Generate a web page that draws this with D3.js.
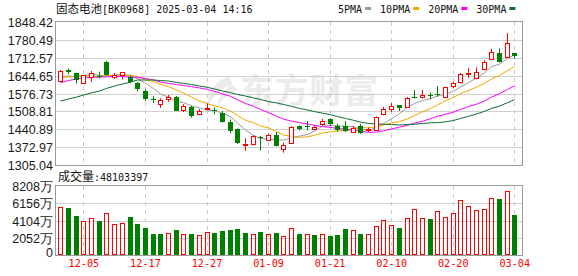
<!DOCTYPE html>
<html><head><meta charset="utf-8">
<script src="https://cdn.jsdelivr.net/npm/d3@7"></script>
<style>body{margin:0;background:#fff;overflow:hidden}svg{display:block}</style>
</head><body><svg id="c" width="578" height="276"></svg>
<script>
const dates=["12-02","12-03","12-04","12-05","12-06","12-09","12-10","12-11","12-12","12-13","12-16","12-17","12-18","12-19","12-20","12-23","12-24","12-25","12-26","12-27","12-30","12-31","01-02","01-03","01-06","01-07","01-08","01-09","01-10","01-13","01-14","01-15","01-16","01-17","01-20","01-21","01-22","01-23","01-24","01-27","02-05","02-06","02-07","02-10","02-11","02-12","02-13","02-14","02-17","02-18","02-19","02-20","02-21","02-24","02-25","02-26","02-27","02-28","03-03","03-04"];
const open =[1624,1667,1653,1618,1638,1643,1696,1641,1647,1641,1618,1585,1556,1535,1555,1564,1514,1526,1499,1519,1514,1504,1470,1441,1380,1385,1410,1400,1419,1365,1387,1452,1453,1443,1459,1478,1454,1454,1432,1452,1437,1438,1497,1519,1533,1524,1565,1563,1570,1575,1563,1605,1619,1652,1634,1668,1707,1729,1717,1729];
const high =[1666,1672,1656,1647,1662,1660,1701,1655,1658,1645,1620,1593,1567,1558,1572,1567,1536,1530,1518,1538,1524,1510,1478,1444,1406,1418,1415,1425,1431,1390,1452,1456,1472,1456,1480,1482,1462,1472,1453,1461,1448,1490,1526,1540,1533,1564,1590,1590,1580,1605,1602,1622,1655,1673,1676,1703,1746,1748,1806,1729];
const low  =[1620,1650,1615,1616,1621,1634,1645,1632,1630,1616,1585,1548,1541,1522,1545,1510,1506,1485,1497,1514,1498,1466,1425,1385,1359,1380,1360,1396,1376,1352,1385,1437,1437,1437,1455,1453,1432,1431,1428,1423,1430,1436,1494,1507,1511,1522,1558,1558,1555,1565,1560,1597,1615,1637,1630,1665,1704,1694,1716,1709];
const close=[1663,1660,1627,1646,1656,1640,1647,1648,1657,1622,1592,1555,1553,1552,1565,1512,1529,1491,1511,1521,1511,1470,1433,1390,1384,1415,1406,1419,1377,1381,1450,1443,1451,1449,1473,1461,1438,1435,1444,1426,1441,1488,1517,1531,1523,1560,1563,1571,1568,1572,1600,1617,1650,1654,1657,1695,1736,1697,1767,1720];
const volume=[5710,5591,4639,4005,4401,4045,4996,3688,3807,4560,3688,3251,2498,2498,2617,2974,2498,2498,2379,2736,2617,2855,2974,3093,2617,2498,2736,2498,2617,2260,3212,2498,2498,2379,2498,2260,2379,3093,2934,2498,2498,3410,4124,3569,3212,4362,5436,4362,4282,5198,4480,4956,6506,5793,5317,5436,6744,6662,7577,4810];
const ma5 =[1641,1643,1641,1645,1650,1646,1643,1647,1650,1643,1633,1615,1596,1575,1563,1547,1542,1530,1522,1513,1513,1501,1489,1465,1438,1418,1406,1403,1400,1400,1408,1415,1421,1434,1453,1455,1454,1452,1450,1441,1437,1447,1463,1481,1500,1524,1539,1550,1557,1567,1575,1585,1601,1618,1636,1655,1679,1688,1710,1723];
const ma10=[1638,1640,1642,1643,1643,1642,1644,1646,1647,1647,1640,1629,1622,1612,1603,1590,1579,1563,1548,1538,1530,1522,1510,1493,1475,1466,1453,1446,1433,1419,1413,1410,1412,1418,1427,1431,1434,1436,1442,1447,1446,1450,1457,1465,1470,1480,1493,1507,1519,1533,1549,1562,1576,1588,1601,1615,1632,1645,1664,1679];
const ma20=[1618,1626,1632,1636,1638,1639,1640,1641,1641,1639,1638,1634,1628,1620,1615,1611,1607,1603,1598,1592,1585,1575,1566,1553,1539,1528,1516,1504,1491,1479,1472,1466,1461,1456,1451,1448,1444,1441,1438,1433,1429,1430,1435,1442,1449,1456,1464,1471,1481,1490,1498,1506,1516,1527,1536,1548,1563,1576,1592,1606];
const ma30=[1548,1556,1563,1571,1579,1586,1596,1605,1613,1620,1628,1628,1628,1626,1624,1619,1615,1611,1605,1600,1594,1586,1580,1573,1567,1560,1554,1546,1541,1535,1528,1520,1514,1508,1502,1496,1489,1482,1475,1468,1463,1461,1460,1459,1457,1459,1460,1463,1465,1466,1469,1474,1482,1490,1499,1509,1520,1529,1542,1553];
const priceTicks=[1305.04,1372.97,1440.89,1508.81,1576.73,1644.65,1712.57,1780.49,1848.42];
const volTicks=[0,2052,4104,6156,8208];
const dateTicks=["12-05","12-17","12-27","01-09","01-21","02-10","02-20","03-04"];
const titleCJK="固态电池", titleRest="[BK0968] 2025-03-04 14:16";
const volLabelCJK="成交量", volLabelRest=":48103397";
const maNames=["5PMA","10PMA","20PMA","30PMA"];
const maColors=["#9a9a9a","#f0a800","#ff00ff","#0a6e30"];
const watermark="东方财富";

const UP="#ff0000", DOWN="#008000";
const L=56, R=522, PT=22, PB=165, VT=186, VB=255;
const svg=d3.select("#c");
const x=d3.scaleBand().domain(dates).range([56.45,518.15]);
const cx=d=>Math.round(x(d)+x.bandwidth()/2);
const y=d3.scaleLinear().domain([1305.04,1848.42]).range([PB,PT]);
const yv=d3.scaleLinear().domain([0,8208]).range([VB,VT]);
const mono="'DejaVu Sans Mono',monospace", cjk="'Noto Sans CJK SC',sans-serif", sans="'Liberation Sans',Arial,sans-serif";

// watermark (logo + text)
const wm=svg.append("g").attr("fill","#ebebeb");
wm.append("path").attr("d","M229,76 C214,82 206,94 209,106 C212,97 219,89 232,84 C224,90 218,98 217,107 C224,97 232,92 238,90 C232,86 231,81 229,76 Z");
wm.append("text").attr("x",240).attr("y",103).attr("font-family",cjk).attr("font-weight","bold")
  .attr("font-size",34).attr("textLength",138).text(watermark);

// horizontal grid
const grid=svg.append("g");
priceTicks.slice(1,-1).forEach(t=>{const yy=Math.round(y(t))+0.5;
  grid.append("line").attr("x1",L).attr("x2",R).attr("y1",yy).attr("y2",yy).attr("stroke","#cfcfcf");});
volTicks.slice(1,-1).forEach(t=>{const yy=Math.round(yv(t))+0.5;
  grid.append("line").attr("x1",L).attr("x2",R).attr("y1",yy).attr("y2",yy).attr("stroke","#cfcfcf");});
// vertical dashed grid
dateTicks.forEach(d=>{const xx=cx(d)+0.5;
  [[PT,PB],[VT,VB]].forEach(([a,b])=>grid.append("line").attr("x1",xx).attr("x2",xx).attr("y1",a).attr("y2",b)
    .attr("stroke","#cccccc").attr("stroke-dasharray","4,4"));});

// MA lines
[ma5,ma10,ma20,ma30].forEach((arr,k)=>{
  svg.append("path").datum(arr).attr("fill","none").attr("stroke",maColors[k]).attr("stroke-width",1)
    .attr("d",d3.line().x((v,i)=>cx(dates[i])+0.5).y(v=>y(v)));
});

// candles
const cg=svg.append("g");
dates.forEach((d,i)=>{
  const c=cx(d), up=close[i]>=open[i], col=up?UP:DOWN;
  const yT=Math.round(y(Math.max(open[i],close[i]))), yB=Math.round(y(Math.min(open[i],close[i])));
  cg.append("line").attr("x1",c+0.5).attr("x2",c+0.5).attr("y1",y(high[i])).attr("y2",y(low[i])).attr("stroke",col);
  if(up){
    cg.append("rect").attr("x",c-2+0.5).attr("y",yT+0.5).attr("width",4).attr("height",Math.max(1,yB-yT))
      .attr("fill","#fff").attr("stroke",col);
  } else {
    cg.append("rect").attr("x",c-2).attr("y",yT).attr("width",5).attr("height",Math.max(1,yB-yT)).attr("fill",col);
  }
});

// volume bars (colour by change vs previous close)
const vg=svg.append("g");
dates.forEach((d,i)=>{
  const c=cx(d), up=i===0?true:close[i]>=close[i-1];
  const yt=Math.round(yv(volume[i]));
  if(up) vg.append("rect").attr("x",c-2+0.5).attr("y",yt+0.5).attr("width",4).attr("height",VB-yt-1)
      .attr("fill","none").attr("stroke",UP);
  else vg.append("rect").attr("x",c-2).attr("y",yt).attr("width",5).attr("height",VB-yt).attr("fill",DOWN);
});

// borders
[[PT,PB],[VT,VB]].forEach(([a,b])=>{
  svg.append("rect").attr("x",L-0.5).attr("y",a-0.5).attr("width",R-L+1).attr("height",b-a+1)
    .attr("fill","none").attr("stroke","#9a9a9a");
});

// axes
const ay=svg.append("g").attr("transform",`translate(${L-3},0)`)
  .call(d3.axisLeft(y).tickValues(priceTicks).tickSize(0).tickPadding(0).tickFormat(d=>d.toFixed(2)));
ay.select(".domain").remove();
ay.selectAll("text").attr("font-family",sans).attr("font-size",12.5).attr("fill","#1a1a1a").attr("dy","0.36em");
const av=svg.append("g").attr("transform",`translate(${L-3},0)`)
  .call(d3.axisLeft(yv).tickValues(volTicks).tickSize(0).tickPadding(0).tickFormat(d=>d===0?"0":d+"万"));
av.select(".domain").remove();
av.selectAll("text").attr("font-family",sans).attr("font-size",12.5).attr("fill","#1a1a1a").attr("dy","0.36em");
av.selectAll(".tick").filter(d=>d===0).select("text").attr("dy","0.15em");
const ax=svg.append("g").attr("transform",`translate(0,${VB+5})`)
  .call(d3.axisBottom(x).tickValues(dateTicks).tickSize(0).tickPadding(0));
ax.select(".domain").remove();
ax.selectAll("text").attr("font-family",mono).attr("font-size",10.2).attr("fill","#ff0000").attr("dy","0.7em")
  .attr("transform","translate(0.5,0)");

// title
const t=svg.append("text").attr("x",56).attr("y",13).attr("fill","#111");
t.append("tspan").attr("font-family",cjk).attr("font-size",11.5).text(titleCJK);
t.append("tspan").attr("font-family",mono).attr("font-size",10).text(titleRest);
const vt=svg.append("text").attr("x",58).attr("y",181).attr("fill","#111");
vt.append("tspan").attr("font-family",cjk).attr("font-size",12).text(volLabelCJK);
vt.append("tspan").attr("font-family",mono).attr("font-size",10).text(volLabelRest);

// legend
let lx=338;
maNames.forEach((n,k)=>{
  const tx=svg.append("text").attr("x",lx).attr("y",13).attr("font-family",mono).attr("font-size",10)
    .attr("fill","#111").text(n);
  const w=tx.node().getComputedTextLength();
  svg.append("rect").attr("x",lx+w+3).attr("y",7).attr("width",6).attr("height",3).attr("fill",maColors[k]);
  lx+=w+3+6+9;
});
</script></body></html>
